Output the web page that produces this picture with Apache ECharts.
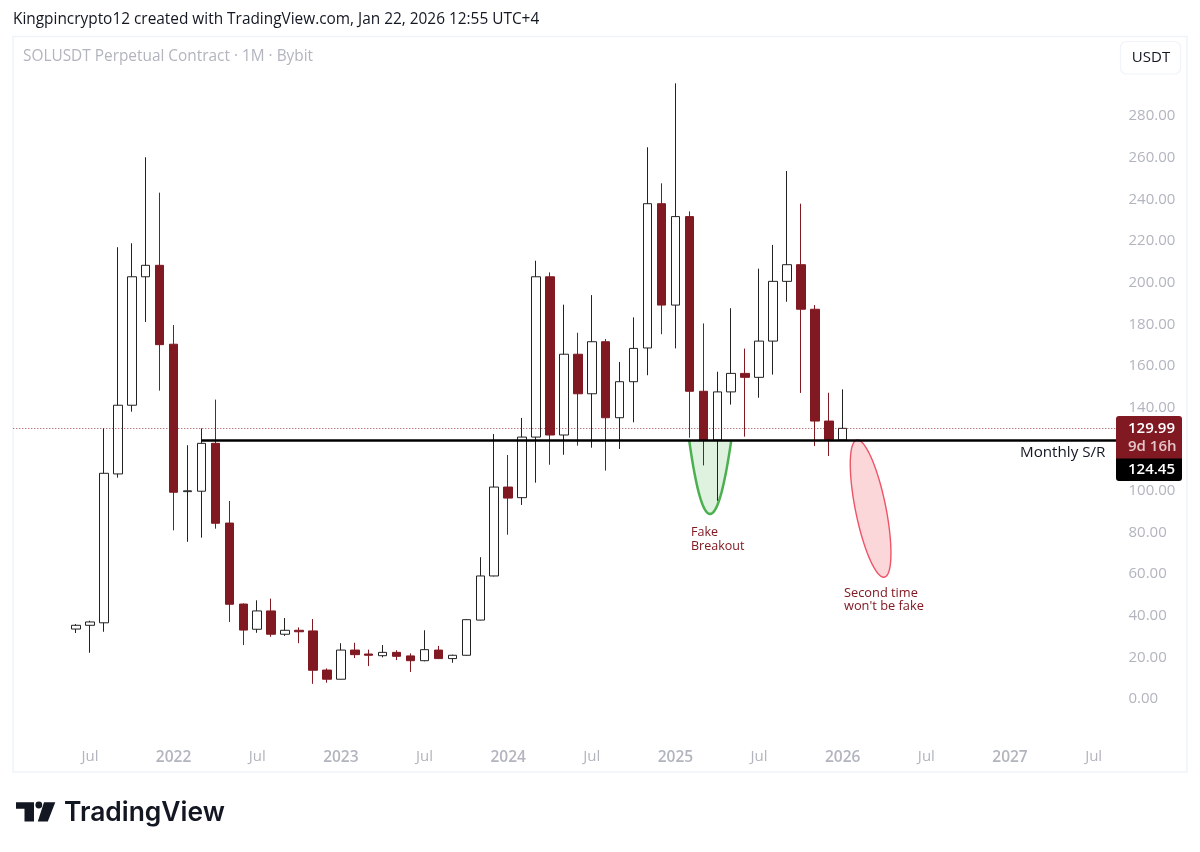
<!DOCTYPE html>
<html><head><meta charset="utf-8">
<style>html,body{margin:0;padding:0;background:#fff}#c{width:1200px;height:852px}</style>
<script src="https://cdn.jsdelivr.net/npm/echarts@6/dist/echarts.min.js"></script>
</head><body><div id="c"></div>
<script>
const categories = [
 '2021-02','2021-03','2021-04','2021-05','2021-06','2021-07','2021-08','2021-09','2021-10','2021-11','2021-12',
 '2022-01','2022-02','2022-03','2022-04','2022-05','2022-06','2022-07','2022-08','2022-09','2022-10','2022-11','2022-12',
 '2023-01','2023-02','2023-03','2023-04','2023-05','2023-06','2023-07','2023-08','2023-09','2023-10','2023-11','2023-12',
 '2024-01','2024-02','2024-03','2024-04','2024-05','2024-06','2024-07','2024-08','2024-09','2024-10','2024-11','2024-12',
 '2025-01','2025-02','2025-03','2025-04','2025-05','2025-06','2025-07','2025-08','2025-09','2025-10','2025-11','2025-12',
 '2026-01','2026-02','2026-03','2026-04','2026-05','2026-06','2026-07','2026-08','2026-09','2026-10','2026-11','2026-12',
 '2027-01','2027-02','2027-03','2027-04','2027-05','2027-06','2027-07','2027-08','2027-09'];
const firstCandle = '2021-06';
const opens = [33.6,35.4,36.6,108.1,141.1,202.8,208.3,170.4,99.6,99.8,122.8,84.5,45.6,33.5,42.3,31.1,33.0,32.7,13.9,9.5,23.5,21.6,20.8,22.4,20.7,18.4,23.5,19.4,21.0,37.9,59.1,101.8,96.7,125.8,202.8,126.8,165.6,146.6,171.6,135.1,152.4,168.6,237.9,189.2,231.7,147.8,124.4,147.5,156.4,154.5,171.9,200.6,208.6,187.2,133.5,124.4];
const closes = [35.4,37.0,108.4,141.1,202.8,208.3,170.2,99.3,100.0,122.8,84.4,45.5,33.1,42.3,31.1,33.0,32.3,13.8,9.5,23.5,21.3,21.0,22.4,20.5,18.4,23.7,19.4,21.0,38.1,59.1,101.8,96.5,125.8,202.8,126.8,165.6,146.6,171.6,135.1,152.4,168.4,237.9,189.2,231.7,147.8,124.3,147.5,156.4,154.5,171.9,200.6,208.6,187.2,133.5,124.7,130.0];
const lows = [31.7,22.2,32.3,106.3,138.0,181.1,148.1,81.0,75.5,77.5,81.8,37.0,25.9,31.8,29.9,30.3,26.8,7.3,7.8,9.4,19.7,15.8,20.0,18.7,13.0,18.1,19.2,17.4,20.8,37.8,58.9,78.9,93.2,103.9,112.5,117.3,121.7,120.7,109.7,120.1,132.9,155.5,175.2,168.4,125.5,112.2,95.2,141.4,126.0,144.7,155.8,190.8,147.0,121.5,116.7,124.3];
const highs = [36.0,37.6,130.0,217.0,218.9,260.2,243.2,179.6,121.9,130.0,143.8,95.1,45.9,47.4,48.2,38.9,34.4,38.4,14.7,26.8,27.0,23.7,25.9,23.4,21.9,33.0,25.5,21.3,38.4,68.1,127.3,117.2,135.0,210.5,204.9,189.4,175.9,194.0,172.9,161.9,183.3,265.0,247.7,295.7,234.2,180.4,157.2,187.7,168.3,206.7,218.1,253.6,237.9,189.2,147.1,148.7];
const yTicksHidden = [-20,120,300];
const lastPrice = 129.99, srLevel = 124.45, srStart = '2022-03', srEnd = '2027-09';
const countdown = '9d 16h';
// annotation anchors: [month position, price]
const fakeBreakoutAnchors = [[47.99,124.05],[49.47,53.65],[51.0,124.05]];
const secondTimeAnchors = [[61.0,91.45],[62.46,70.1],[61.0,66.3]];

const offset = categories.indexOf(firstCandle);
const candleData = categories.map((c,i)=>{
  const k=i-offset;
  return (k>=0&&k<opens.length)?[opens[k],closes[k],lows[k],highs[k]]:'-';
});
const RED='#801922', GREY='#b2b5be';
const FONT='"Open Sans",sans-serif';

function renderU(params, api){
  const [a,b,c]=fakeBreakoutAnchors.map(p=>api.coord(p));
  const pts=[];
  for(let i=0;i<=40;i++){const t=i/40,u=1-t;
    pts.push([u*u*a[0]+2*u*t*b[0]+t*t*c[0], u*u*a[1]+2*u*t*b[1]+t*t*c[1]]);}
  return {type:'group',children:[
    {type:'polygon',shape:{points:pts},style:{fill:'rgba(76,175,80,0.18)',stroke:null}},
    {type:'polyline',shape:{points:pts},style:{fill:null,stroke:'#4caf50',lineWidth:2.5}}
  ]};
}
function renderEllipse(params, api){
  const [c,r,q]=secondTimeAnchors.map(p=>api.coord(p));
  const pts=[];
  for(let i=0;i<72;i++){const t=i/72*2*Math.PI,cs=Math.cos(t),sn=Math.sin(t);
    pts.push([c[0]+(r[0]-c[0])*cs+(q[0]-c[0])*sn, c[1]+(r[1]-c[1])*cs+(q[1]-c[1])*sn]);}
  return {type:'polygon',shape:{points:pts},style:{fill:'rgba(242,54,69,0.2)',stroke:'#ee5468',lineWidth:1.4}};
}
const chart=echarts.init(document.getElementById('c'),null,{renderer:'canvas'});
const txt=(x,y,text,size,fill,extra,weight)=>({type:'text',z:60,x,y,style:Object.assign({text,font:`${weight||400} ${size}px ${FONT}`,fill,verticalAlign:'middle'},extra||{})});
chart.setOption({
  animation:false,
  backgroundColor:'#fff',
  grid:{left:13.27,right:71.5,top:74.4,bottom:111.36},
  xAxis:[{type:'category',data:categories,boundaryGap:true,
    axisLine:{show:false},axisTick:{show:false},splitLine:{show:false},
    axisLabel:{margin:9,fontFamily:FONT,fontSize:15,color:GREY,hideOverlap:false,
      interval:(i,v)=>/-(01|07)$/.test(v),
      formatter:v=>v.endsWith('-07')?'Jul':'{y|'+v.slice(0,4)+'}',
      rich:{y:{fontFamily:FONT,fontSize:15.5,fontWeight:600,color:GREY}}}},
    {type:'value',show:false,min:-0.5,max:categories.length-0.5}],
  yAxis:{type:'value',position:'right',min:-20,max:300,interval:20,
    axisLine:{show:false},axisTick:{show:false},splitLine:{show:false},
    axisLabel:{margin:0,align:'left',fontFamily:FONT,fontSize:15,color:GREY,padding:[2,0,0,0],
      formatter:v=>yTicksHidden.includes(v)?'':v.toFixed(2)}},
  series:[
    {type:'custom',xAxisIndex:1,yAxisIndex:0,z:1,clip:false,silent:true,data:[fakeBreakoutAnchors[1]],renderItem:renderU},
    {type:'custom',xAxisIndex:1,yAxisIndex:0,z:1,clip:false,silent:true,data:[secondTimeAnchors[0]],renderItem:renderEllipse},
    {type:'candlestick',xAxisIndex:0,yAxisIndex:0,z:2,barWidth:9,data:candleData,
      itemStyle:{color:'#ffffff',color0:RED,borderColor:'#222',borderColor0:RED,borderWidth:1},
      markLine:{silent:true,symbol:'none',label:{show:false},animation:false,z:3,data:[
        {yAxis:lastPrice,lineStyle:{color:RED,type:[1,2],width:1,opacity:0.8}},
        [{coord:[srStart,srLevel],lineStyle:{color:'#000',type:'solid',width:2.6}},{coord:[srEnd,srLevel]}]
      ]}}
  ],
  graphic:[
    {type:'rect',z:0,shape:{x:13,y:36.5,width:1174,height:735.5},style:{fill:'none',stroke:'#f0f3fa',lineWidth:1.5}},
    txt(13,19.5,'Kingpincrypto12 created with TradingView.com, Jan 22, 2026 12:55 UTC+4',15.4,'#131722'),
    txt(23,56.5,'SOLUSDT Perpetual Contract · 1M · Bybit',15.4,GREY),
    {type:'rect',z:55,shape:{x:1120.5,y:41.5,width:60,height:32.5,r:6},style:{fill:'#fff',stroke:'#f0f3fa',lineWidth:1.2}},
    txt(1151,58,'USDT',15,'#131722',{align:'center'}),
    {type:'rect',z:55,shape:{x:1116,y:416,width:66,height:43,r:[3,3,0,0]},style:{fill:RED}},
    {type:'rect',z:55,shape:{x:1116,y:458.5,width:66,height:22.5,r:[0,0,3,3]},style:{fill:'#000'}},
    txt(1128,429,lastPrice.toFixed(2),15,'#fff',null,600),
    txt(1128,447,countdown,15,'#e3c5c8',null,600),
    txt(1128,470,srLevel.toFixed(2),15,'#fff',null,600),
    txt(1020,453,'Monthly S/R',15.2,'#131722'),
    txt(691,532.5,'Fake',12.5,RED),
    txt(691,546,'Breakout',12.5,RED),
    txt(844,593,'Second time',12.8,RED),
    txt(844,606,"won't be fake",12.8,RED),
    // TradingView logo
    {type:'polygon',z:60,shape:{points:[[16,802.3],[34,802.3],[34,821.5],[24.5,821.5],[24.5,808.7],[16,808.7]]},style:{fill:'#131722'}},
    {type:'circle',z:60,shape:{cx:38.8,cy:805,r:3.4},style:{fill:'#131722'}},
    {type:'polygon',z:60,shape:{points:[[44,802.3],[55.3,802.3],[47.8,821.5],[37.8,821.5]]},style:{fill:'#131722'}},
    {type:'text',z:60,x:64,y:813,style:{text:'TradingView',font:'600 26.4px Inter,sans-serif',fill:'#131722',verticalAlign:'middle'}}
  ]
});
</script></body></html>
